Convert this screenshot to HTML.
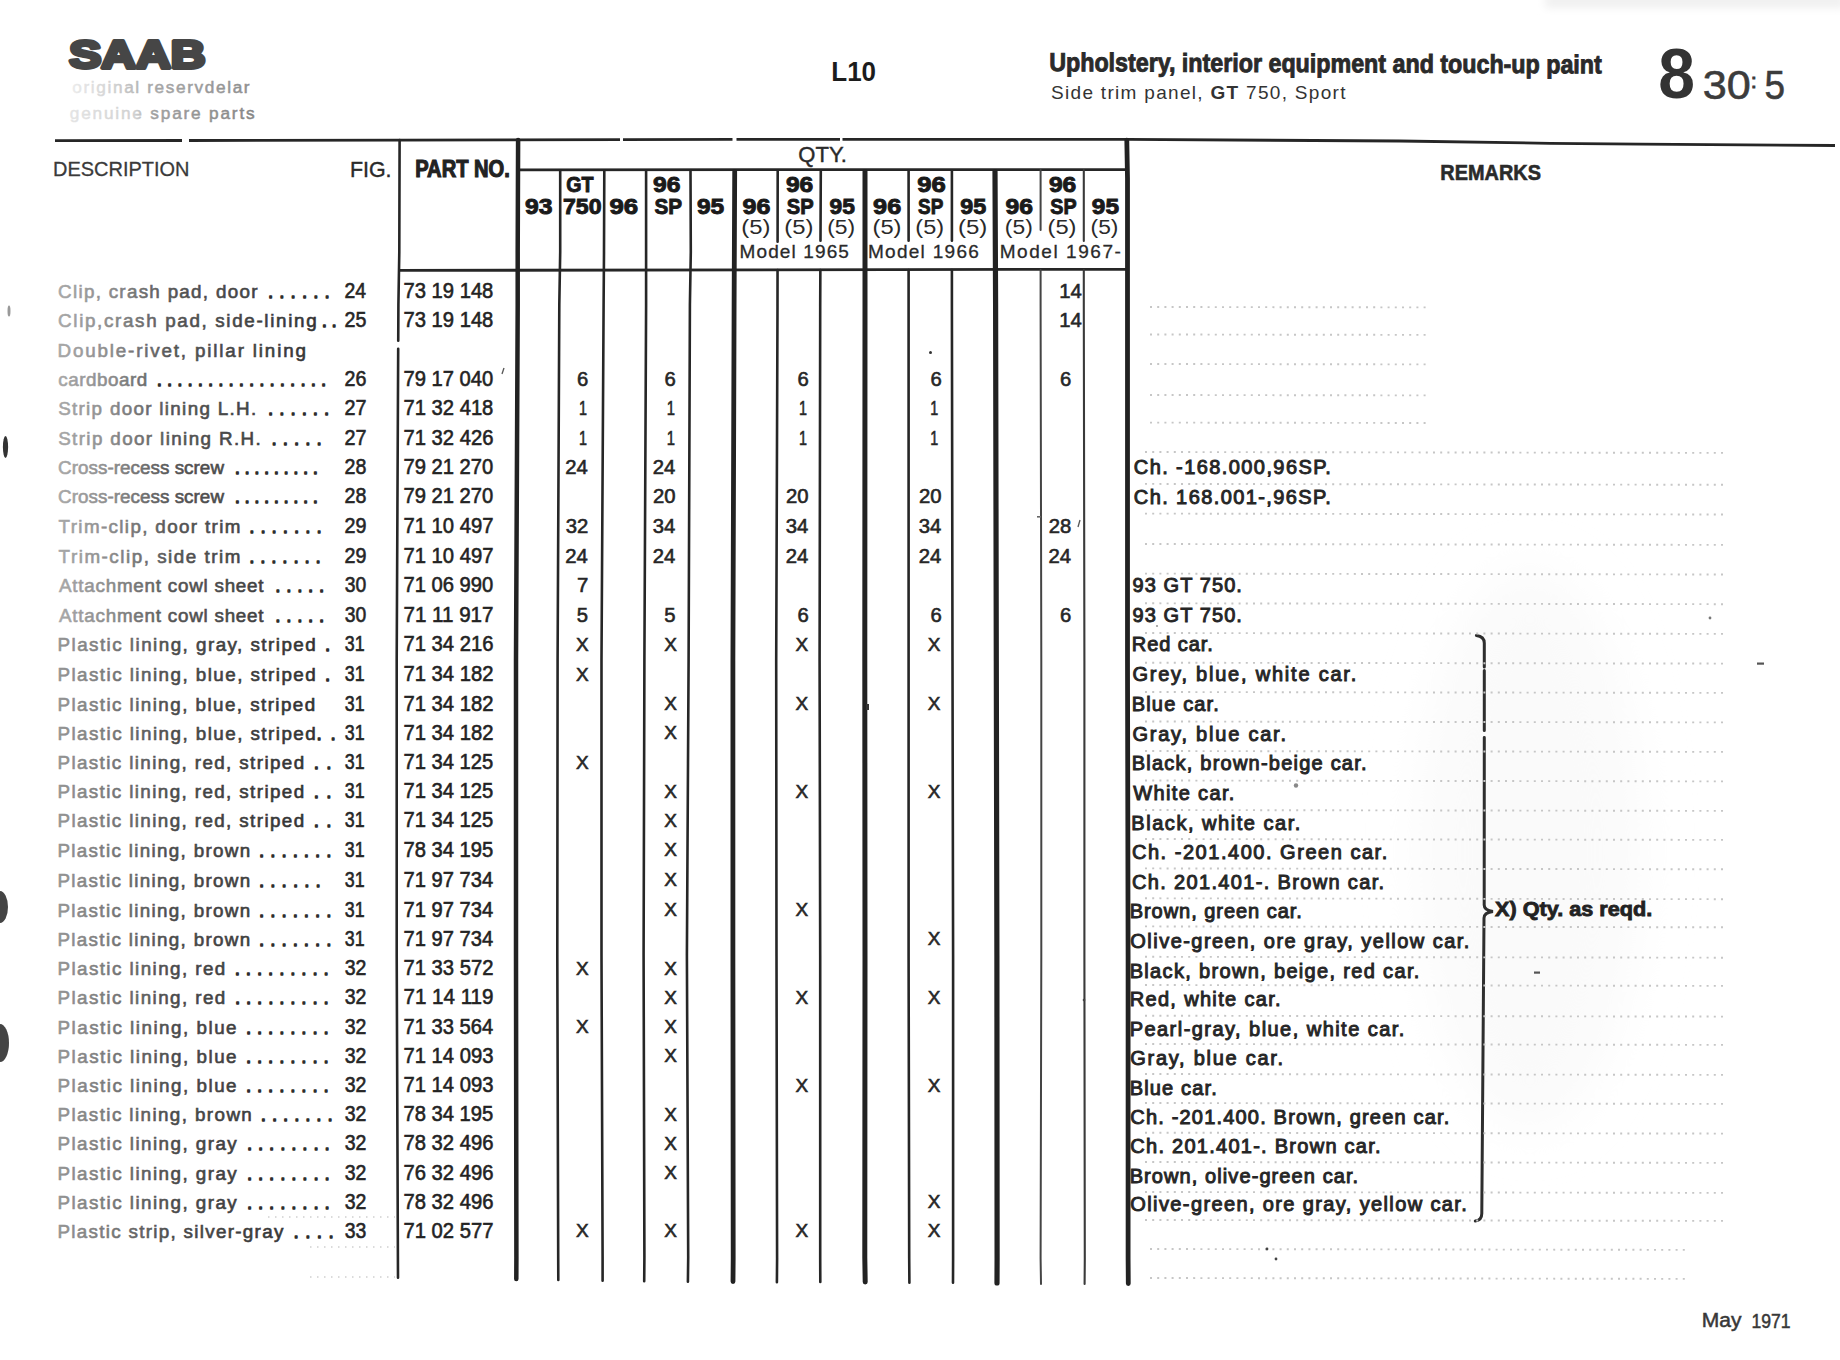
<!DOCTYPE html>
<html><head><meta charset="utf-8"><title>SAAB 8 30:5 - Upholstery, interior equipment and touch-up paint</title>
<style>
html,body{margin:0;padding:0;background:#fff;}
body{width:1840px;height:1360px;overflow:hidden;}
svg{display:block;font-family:"Liberation Sans", Arial, sans-serif;}

text.n{stroke:#262626;stroke-width:0.6;}
text.r{stroke:#262626;stroke-width:0.95;}
</style></head><body>
<svg width="1840" height="1360" viewBox="0 0 1840 1360">
<defs>
<linearGradient id="fadeD" gradientUnits="userSpaceOnUse" x1="58" y1="0" x2="330" y2="0">
<stop offset="0" stop-color="#949494"/><stop offset="0.2" stop-color="#777"/><stop offset="0.42" stop-color="#4a4a4a"/><stop offset="1" stop-color="#2e2e2e"/>
</linearGradient>
<linearGradient id="fadeE" gradientUnits="userSpaceOnUse" x1="58" y1="0" x2="330" y2="0">
<stop offset="0" stop-color="#a8a8a8"/><stop offset="0.2" stop-color="#8a8a8a"/><stop offset="0.42" stop-color="#555"/><stop offset="1" stop-color="#303030"/>
</linearGradient>
<linearGradient id="fadeA" gradientUnits="userSpaceOnUse" x1="70" y1="0" x2="250" y2="0">
<stop offset="0" stop-color="#ececec"/><stop offset="0.25" stop-color="#d0d0d0"/><stop offset="0.45" stop-color="#a8a8a8"/><stop offset="1" stop-color="#8e8e8e"/>
</linearGradient>
<linearGradient id="fadeB" gradientUnits="userSpaceOnUse" x1="70" y1="0" x2="255" y2="0">
<stop offset="0" stop-color="#e4e4e4"/><stop offset="0.35" stop-color="#d0d0d0"/><stop offset="0.45" stop-color="#a0a0a0"/><stop offset="1" stop-color="#858585"/>
</linearGradient>
<filter id="blur4" x="-10%" y="-50%" width="120%" height="200%"><feGaussianBlur stdDeviation="4"/></filter>
<filter id="blur20" x="-50%" y="-50%" width="200%" height="200%"><feGaussianBlur stdDeviation="25"/></filter>
</defs>
<rect width="1840" height="1360" fill="#ffffff"/>
<ellipse cx="1530" cy="850" rx="110" ry="280" fill="#fafafa" filter="url(#blur20)"/>
<text x="69.22" y="67.70" font-size="39.50" font-weight="bold" fill="#464646" textLength="136.17" lengthAdjust="spacingAndGlyphs" stroke="#464646" stroke-width="3.8" stroke-linejoin="round">SAAB</text>
<text x="72.28" y="93.30" font-size="17.20" fill="url(#fadeA)" textLength="177.31" lengthAdjust="spacing" stroke="url(#fadeA)" stroke-width="0.5">original reservdelar</text>
<text x="69.78" y="118.90" font-size="17.20" fill="url(#fadeB)" textLength="184.84" lengthAdjust="spacing" stroke="url(#fadeB)" stroke-width="0.5">genuine spare parts</text>
<text x="831.26" y="81.30" font-size="27.00" font-weight="bold" fill="#1c1c1c" textLength="44.81" lengthAdjust="spacingAndGlyphs">L10</text>
<text x="1049.21" y="71.10" font-size="26.00" font-weight="bold" fill="#2a2a2a" textLength="552.58" lengthAdjust="spacingAndGlyphs" stroke="#2a2a2a" stroke-width="0.9" transform="rotate(0.24 1050 71)">Upholstery, interior equipment and touch-up paint</text>
<text x="1051.00" y="98.7" font-size="19" fill="#333" textLength="294.50" lengthAdjust="spacing">Side trim panel, <tspan font-weight="bold">GT</tspan> 750, Sport</text>
<text x="1658.30" y="97.60" font-size="71.00" font-weight="bold" fill="#333" textLength="36.73" lengthAdjust="spacingAndGlyphs">8</text>
<text x="1702.66" y="98.50" font-size="41.00" fill="#3c3c3c" textLength="48.03" lengthAdjust="spacingAndGlyphs" stroke="#3c3c3c" stroke-width="0.6">30</text>
<text x="1750.97" y="88.40" font-size="20.00" fill="#3c3c3c" stroke="#3c3c3c" stroke-width="1.1">:</text>
<text x="1764.52" y="98.50" font-size="41.00" fill="#3c3c3c" textLength="20.53" lengthAdjust="spacingAndGlyphs" stroke="#3c3c3c" stroke-width="0.6">5</text>
<path d="M55.00,140.60 L182.00,140.50" stroke="#262626" stroke-width="2.80" fill="none"/>
<path d="M189.00,140.50 L400.00,140.20 L620.00,139.71" stroke="#262626" stroke-width="2.80" fill="none"/>
<path d="M623.00,139.70 L732.50,139.45" stroke="#262626" stroke-width="2.80" fill="none"/>
<path d="M736.50,139.44 L800.00,139.30 L840.00,139.31" stroke="#262626" stroke-width="2.80" fill="none"/>
<path d="M842.50,139.31 L1127.00,139.40 L1400.00,141.00 L1550.00,143.30 L1640.00,144.10 L1835.00,145.50" stroke="#262626" stroke-width="2.80" fill="none"/>
<text x="53.06" y="176.00" font-size="21.00" fill="#3a3a3a" textLength="136.36" lengthAdjust="spacingAndGlyphs" stroke="#3a3a3a" stroke-width="0.3">DESCRIPTION</text>
<text x="349.94" y="176.70" font-size="22.00" fill="#2a2a2a" textLength="41.61" lengthAdjust="spacingAndGlyphs" stroke="#2a2a2a" stroke-width="0.4">FIG.</text>
<text x="415.17" y="176.60" font-size="23.00" font-weight="bold" fill="#222" textLength="94.69" lengthAdjust="spacingAndGlyphs" stroke="#222" stroke-width="1.1">PART NO.</text>
<text x="798.31" y="161.90" font-size="22.00" fill="#2a2a2a" textLength="48.59" lengthAdjust="spacingAndGlyphs" stroke="#2a2a2a" stroke-width="0.4">QTY.</text>
<text x="1440.37" y="180.40" font-size="22.00" font-weight="bold" fill="#2a2a2a" textLength="100.61" lengthAdjust="spacingAndGlyphs" stroke="#2a2a2a" stroke-width="0.6">REMARKS</text>
<text x="566.19" y="192.10" font-size="21.50" font-weight="bold" fill="#1a1a1a" textLength="27.32" lengthAdjust="spacingAndGlyphs" stroke="#1a1a1a" stroke-width="0.9">GT</text>
<text x="652.94" y="192.10" font-size="21.50" font-weight="bold" fill="#1a1a1a" textLength="27.45" lengthAdjust="spacingAndGlyphs" stroke="#1a1a1a" stroke-width="0.9">96</text>
<text x="785.95" y="192.10" font-size="21.50" font-weight="bold" fill="#1a1a1a" textLength="27.34" lengthAdjust="spacingAndGlyphs" stroke="#1a1a1a" stroke-width="0.9">96</text>
<text x="917.21" y="192.10" font-size="21.50" font-weight="bold" fill="#1a1a1a" textLength="28.52" lengthAdjust="spacingAndGlyphs" stroke="#1a1a1a" stroke-width="0.9">96</text>
<text x="1048.95" y="192.10" font-size="21.50" font-weight="bold" fill="#1a1a1a" textLength="27.34" lengthAdjust="spacingAndGlyphs" stroke="#1a1a1a" stroke-width="0.9">96</text>
<text x="525.14" y="214.30" font-size="21.50" font-weight="bold" fill="#1a1a1a" textLength="27.45" lengthAdjust="spacingAndGlyphs" stroke="#1a1a1a" stroke-width="0.9">93</text>
<text x="563.01" y="214.30" font-size="21.50" font-weight="bold" fill="#1a1a1a" textLength="38.54" lengthAdjust="spacingAndGlyphs" stroke="#1a1a1a" stroke-width="0.9">750</text>
<text x="609.50" y="214.30" font-size="21.50" font-weight="bold" fill="#1a1a1a" textLength="28.73" lengthAdjust="spacingAndGlyphs" stroke="#1a1a1a" stroke-width="0.9">96</text>
<text x="654.40" y="214.30" font-size="21.50" font-weight="bold" fill="#1a1a1a" textLength="27.60" lengthAdjust="spacingAndGlyphs" stroke="#1a1a1a" stroke-width="0.9">SP</text>
<text x="696.95" y="214.30" font-size="21.50" font-weight="bold" fill="#1a1a1a" textLength="27.23" lengthAdjust="spacingAndGlyphs" stroke="#1a1a1a" stroke-width="0.9">95</text>
<text x="742.53" y="214.30" font-size="21.50" font-weight="bold" fill="#1a1a1a" textLength="27.87" lengthAdjust="spacingAndGlyphs" stroke="#1a1a1a" stroke-width="0.9">96</text>
<text x="786.82" y="214.30" font-size="21.50" font-weight="bold" fill="#1a1a1a" textLength="26.87" lengthAdjust="spacingAndGlyphs" stroke="#1a1a1a" stroke-width="0.9">SP</text>
<text x="829.51" y="214.30" font-size="21.50" font-weight="bold" fill="#1a1a1a" textLength="25.32" lengthAdjust="spacingAndGlyphs" stroke="#1a1a1a" stroke-width="0.9">95</text>
<text x="873.12" y="214.30" font-size="21.50" font-weight="bold" fill="#1a1a1a" textLength="28.09" lengthAdjust="spacingAndGlyphs" stroke="#1a1a1a" stroke-width="0.9">96</text>
<text x="918.06" y="214.30" font-size="21.50" font-weight="bold" fill="#1a1a1a" textLength="25.19" lengthAdjust="spacingAndGlyphs" stroke="#1a1a1a" stroke-width="0.9">SP</text>
<text x="960.39" y="214.30" font-size="21.50" font-weight="bold" fill="#1a1a1a" textLength="25.96" lengthAdjust="spacingAndGlyphs" stroke="#1a1a1a" stroke-width="0.9">95</text>
<text x="1005.44" y="214.30" font-size="21.50" font-weight="bold" fill="#1a1a1a" textLength="27.45" lengthAdjust="spacingAndGlyphs" stroke="#1a1a1a" stroke-width="0.9">96</text>
<text x="1050.33" y="214.30" font-size="21.50" font-weight="bold" fill="#1a1a1a" textLength="26.34" lengthAdjust="spacingAndGlyphs" stroke="#1a1a1a" stroke-width="0.9">SP</text>
<text x="1091.85" y="214.30" font-size="21.50" font-weight="bold" fill="#1a1a1a" textLength="27.12" lengthAdjust="spacingAndGlyphs" stroke="#1a1a1a" stroke-width="0.9">95</text>
<text x="741.32" y="234.40" font-size="20.00" fill="#2a2a2a" textLength="29.16" lengthAdjust="spacingAndGlyphs">(5)</text>
<text x="784.22" y="234.40" font-size="20.00" fill="#2a2a2a" textLength="29.16" lengthAdjust="spacingAndGlyphs">(5)</text>
<text x="827.18" y="234.40" font-size="20.00" fill="#2a2a2a" textLength="27.93" lengthAdjust="spacingAndGlyphs">(5)</text>
<text x="872.53" y="234.40" font-size="20.00" fill="#2a2a2a" textLength="28.94" lengthAdjust="spacingAndGlyphs">(5)</text>
<text x="915.34" y="234.40" font-size="20.00" fill="#2a2a2a" textLength="28.71" lengthAdjust="spacingAndGlyphs">(5)</text>
<text x="958.01" y="234.40" font-size="20.00" fill="#2a2a2a" textLength="29.38" lengthAdjust="spacingAndGlyphs">(5)</text>
<text x="1004.88" y="234.40" font-size="20.00" fill="#2a2a2a" textLength="27.93" lengthAdjust="spacingAndGlyphs">(5)</text>
<text x="1047.53" y="234.40" font-size="20.00" fill="#2a2a2a" textLength="28.94" lengthAdjust="spacingAndGlyphs">(5)</text>
<text x="1090.59" y="234.40" font-size="20.00" fill="#2a2a2a" textLength="27.82" lengthAdjust="spacingAndGlyphs">(5)</text>
<text x="739.54" y="257.50" font-size="19.00" fill="#2a2a2a" textLength="109.36" lengthAdjust="spacing" stroke="#2a2a2a" stroke-width="0.3">Model 1965</text>
<text x="867.94" y="257.50" font-size="19.00" fill="#2a2a2a" textLength="110.89" lengthAdjust="spacing" stroke="#2a2a2a" stroke-width="0.3">Model 1966</text>
<text x="999.74" y="257.50" font-size="19.00" fill="#2a2a2a" textLength="121.10" lengthAdjust="spacing" stroke="#2a2a2a" stroke-width="0.3">Model 1967-</text>
<path d="M518.00,169.80 L1127.00,169.60" stroke="#262626" stroke-width="2.80" fill="none"/>
<path d="M398.50,270.40 L1127.00,269.30" stroke="#262626" stroke-width="2.80" fill="none"/>
<path d="M399.60,140.10 L399.30,252.00 L398.40,305.00 L398.23,340.70" stroke="#262626" stroke-width="2.60" fill="none" stroke-linejoin="round" stroke-linecap="round"/>
<path d="M398.19,348.80 L396.70,660.00 L396.70,955.00 L397.90,1257.00 L398.00,1277.70" stroke="#262626" stroke-width="2.60" fill="none" stroke-linejoin="round" stroke-linecap="round"/>
<path d="M518.10,140.05 L517.70,252.00 L517.70,305.00 L516.00,660.00 L516.00,955.00 L516.40,1257.00 L516.30,1279.05" stroke="#222" stroke-width="4.50" fill="none" stroke-linejoin="round" stroke-linecap="round"/>
<path d="M560.20,170.30 L560.20,252.00 L559.30,305.00 L557.60,660.00 L557.30,955.00 L558.20,1257.00 L558.30,1280.00" stroke="#262626" stroke-width="2.60" fill="none" stroke-linejoin="round" stroke-linecap="round"/>
<path d="M604.30,170.30 L604.00,252.00 L603.60,305.00 L601.50,660.00 L601.50,955.00 L602.60,1257.00 L602.60,1280.70" stroke="#262626" stroke-width="2.60" fill="none" stroke-linejoin="round" stroke-linecap="round"/>
<path d="M646.10,170.30 L646.10,252.00 L646.10,305.00 L644.40,660.00 L643.60,955.00 L644.40,1257.00 L644.20,1281.30" stroke="#262626" stroke-width="2.60" fill="none" stroke-linejoin="round" stroke-linecap="round"/>
<path d="M690.50,170.30 L690.80,252.00 L689.90,305.00 L688.60,660.00 L686.90,955.00 L688.20,1257.00 L687.90,1281.70" stroke="#262626" stroke-width="2.60" fill="none" stroke-linejoin="round" stroke-linecap="round"/>
<path d="M734.70,171.40 L734.10,306.00 L732.90,661.00 L732.90,956.00 L733.20,1258.00 L733.00,1281.60" stroke="#222" stroke-width="4.80" fill="none" stroke-linejoin="round" stroke-linecap="round"/>
<path d="M777.70,170.30 L777.59,241.70" stroke="#262626" stroke-width="2.60" fill="none" stroke-linejoin="round" stroke-linecap="round"/>
<path d="M777.55,270.00 L777.50,306.00 L776.20,661.00 L776.50,956.00 L777.10,1258.00 L776.90,1282.20" stroke="#262626" stroke-width="2.60" fill="none" stroke-linejoin="round" stroke-linecap="round"/>
<path d="M820.80,170.30 L820.49,240.70" stroke="#262626" stroke-width="2.60" fill="none" stroke-linejoin="round" stroke-linecap="round"/>
<path d="M820.36,270.00 L820.20,306.00 L819.60,661.00 L820.20,956.00 L820.20,1258.00 L820.30,1281.90" stroke="#262626" stroke-width="2.60" fill="none" stroke-linejoin="round" stroke-linecap="round"/>
<path d="M865.00,171.50 L865.00,306.00 L864.80,661.00 L865.00,956.00 L864.80,1258.00 L865.20,1282.00" stroke="#222" stroke-width="5.00" fill="none" stroke-linejoin="round" stroke-linecap="round"/>
<path d="M908.60,170.30 L908.60,240.70" stroke="#262626" stroke-width="2.60" fill="none" stroke-linejoin="round" stroke-linecap="round"/>
<path d="M908.60,270.00 L908.60,306.00 L908.60,661.00 L908.60,956.00 L909.20,1258.00 L909.40,1282.70" stroke="#262626" stroke-width="2.60" fill="none" stroke-linejoin="round" stroke-linecap="round"/>
<path d="M951.90,170.30 L951.90,240.70" stroke="#262626" stroke-width="2.60" fill="none" stroke-linejoin="round" stroke-linecap="round"/>
<path d="M951.90,270.00 L951.90,306.00 L952.50,661.00 L953.10,956.00 L953.10,1258.00 L953.00,1282.70" stroke="#262626" stroke-width="2.60" fill="none" stroke-linejoin="round" stroke-linecap="round"/>
<path d="M995.00,171.60 L995.60,306.00 L996.30,661.00 L996.90,956.00 L997.10,1258.00 L997.00,1282.90" stroke="#222" stroke-width="5.20" fill="none" stroke-linejoin="round" stroke-linecap="round"/>
<path d="M1040.60,170.00 L1040.60,230.00" stroke="#444" stroke-width="2.00" fill="none" stroke-linejoin="round" stroke-linecap="round"/>
<path d="M1040.60,270.00 L1040.60,306.00 L1041.30,661.00 L1041.30,956.00 L1040.60,1258.00 L1041.00,1284.00" stroke="#444" stroke-width="2.00" fill="none" stroke-linejoin="round" stroke-linecap="round"/>
<path d="M1083.80,170.05 L1083.80,240.95" stroke="#3a3a3a" stroke-width="2.10" fill="none" stroke-linejoin="round" stroke-linecap="round"/>
<path d="M1083.80,270.00 L1083.80,306.00 L1084.40,661.00 L1084.40,956.00 L1084.80,1258.00 L1084.60,1283.95" stroke="#3a3a3a" stroke-width="2.10" fill="none" stroke-linejoin="round" stroke-linecap="round"/>
<path d="M1126.80,140.20 L1127.50,178.00 L1127.50,306.00 L1127.50,661.00 L1128.10,956.00 L1128.10,1258.00 L1128.30,1283.60" stroke="#222" stroke-width="4.80" fill="none" stroke-linejoin="round" stroke-linecap="round"/>
<text x="58.05" y="297.70" font-size="18.80" fill="url(#fadeE)" textLength="199.37" lengthAdjust="spacing" class="d" stroke="url(#fadeE)" stroke-width="0.6">Clip, crash pad, door</text>
<text x="267.98" y="297.70" font-size="18.80" fill="#2e2e2e" textLength="61.73" lengthAdjust="spacing" stroke="#2e2e2e" stroke-width="1.3" stroke-linejoin="round">......</text>
<text x="344.53" y="297.70" font-size="21.50" fill="#262626" textLength="21.54" lengthAdjust="spacingAndGlyphs" class="n">24</text>
<text x="403.46" y="297.70" font-size="22.00" fill="#222" textLength="89.91" lengthAdjust="spacingAndGlyphs" class="n">73 19 148</text>
<text x="58.05" y="327.40" font-size="18.80" fill="url(#fadeE)" textLength="258.57" lengthAdjust="spacing" class="d" stroke="url(#fadeE)" stroke-width="0.6">Clip,crash pad, side-lining</text>
<text x="321.78" y="327.40" font-size="18.80" fill="#2e2e2e" textLength="14.93" lengthAdjust="spacing" stroke="#2e2e2e" stroke-width="1.3" stroke-linejoin="round">..</text>
<text x="344.51" y="327.40" font-size="21.50" fill="#262626" textLength="21.81" lengthAdjust="spacingAndGlyphs" class="n">25</text>
<text x="403.46" y="327.40" font-size="22.00" fill="#222" textLength="89.91" lengthAdjust="spacingAndGlyphs" class="n">73 19 148</text>
<text x="57.46" y="356.80" font-size="18.80" fill="url(#fadeE)" textLength="248.45" lengthAdjust="spacing" class="d" stroke="url(#fadeE)" stroke-width="0.6">Double-rivet, pillar lining</text>
<text x="58.20" y="386.20" font-size="18.80" fill="url(#fadeE)" textLength="89.01" lengthAdjust="spacing" class="d" stroke="url(#fadeE)" stroke-width="0.6">cardboard</text>
<text x="156.78" y="386.20" font-size="18.80" fill="#2e2e2e" textLength="169.33" lengthAdjust="spacing" stroke="#2e2e2e" stroke-width="1.3" stroke-linejoin="round">.................</text>
<text x="344.51" y="386.20" font-size="21.50" fill="#262626" textLength="21.85" lengthAdjust="spacingAndGlyphs" class="n">26</text>
<text x="403.46" y="386.20" font-size="22.00" fill="#222" textLength="89.82" lengthAdjust="spacingAndGlyphs" class="n">79 17 040</text>
<text x="58.15" y="415.30" font-size="18.80" fill="url(#fadeE)" textLength="197.97" lengthAdjust="spacing" class="d" stroke="url(#fadeE)" stroke-width="0.6">Strip door lining L.H.</text>
<text x="267.98" y="415.30" font-size="18.80" fill="#2e2e2e" textLength="61.33" lengthAdjust="spacing" stroke="#2e2e2e" stroke-width="1.3" stroke-linejoin="round">......</text>
<text x="344.51" y="415.30" font-size="21.50" fill="#262626" textLength="21.99" lengthAdjust="spacingAndGlyphs" class="n">27</text>
<text x="403.46" y="415.30" font-size="22.00" fill="#222" textLength="89.91" lengthAdjust="spacingAndGlyphs" class="n">71 32 418</text>
<text x="58.15" y="445.00" font-size="18.80" fill="url(#fadeE)" textLength="202.57" lengthAdjust="spacing" class="d" stroke="url(#fadeE)" stroke-width="0.6">Strip door lining R.H.</text>
<text x="271.58" y="445.00" font-size="18.80" fill="#2e2e2e" textLength="50.13" lengthAdjust="spacing" stroke="#2e2e2e" stroke-width="1.3" stroke-linejoin="round">.....</text>
<text x="344.51" y="445.00" font-size="21.50" fill="#262626" textLength="21.99" lengthAdjust="spacingAndGlyphs" class="n">27</text>
<text x="403.46" y="445.00" font-size="22.00" fill="#222" textLength="89.92" lengthAdjust="spacingAndGlyphs" class="n">71 32 426</text>
<text x="58.05" y="473.60" font-size="18.80" fill="url(#fadeE)" textLength="165.91" lengthAdjust="spacing" class="d" stroke="url(#fadeE)" stroke-width="0.6">Cross-recess screw</text>
<text x="234.78" y="473.60" font-size="18.80" fill="#2e2e2e" textLength="83.23" lengthAdjust="spacing" stroke="#2e2e2e" stroke-width="1.3" stroke-linejoin="round">.........</text>
<text x="344.51" y="473.60" font-size="21.50" fill="#262626" textLength="21.84" lengthAdjust="spacingAndGlyphs" class="n">28</text>
<text x="403.46" y="473.60" font-size="22.00" fill="#222" textLength="89.82" lengthAdjust="spacingAndGlyphs" class="n">79 21 270</text>
<text x="58.05" y="503.00" font-size="18.80" fill="url(#fadeE)" textLength="165.91" lengthAdjust="spacing" class="d" stroke="url(#fadeE)" stroke-width="0.6">Cross-recess screw</text>
<text x="234.78" y="503.00" font-size="18.80" fill="#2e2e2e" textLength="83.23" lengthAdjust="spacing" stroke="#2e2e2e" stroke-width="1.3" stroke-linejoin="round">.........</text>
<text x="344.51" y="503.00" font-size="21.50" fill="#262626" textLength="21.84" lengthAdjust="spacingAndGlyphs" class="n">28</text>
<text x="403.46" y="503.00" font-size="22.00" fill="#222" textLength="89.82" lengthAdjust="spacingAndGlyphs" class="n">79 21 270</text>
<text x="58.58" y="532.70" font-size="18.80" fill="url(#fadeE)" textLength="181.86" lengthAdjust="spacing" class="d" stroke="url(#fadeE)" stroke-width="0.6">Trim-clip, door trim</text>
<text x="249.18" y="532.70" font-size="18.80" fill="#2e2e2e" textLength="72.53" lengthAdjust="spacing" stroke="#2e2e2e" stroke-width="1.3" stroke-linejoin="round">.......</text>
<text x="344.51" y="532.70" font-size="21.50" fill="#262626" textLength="21.92" lengthAdjust="spacingAndGlyphs" class="n">29</text>
<text x="403.46" y="532.70" font-size="22.00" fill="#222" textLength="90.06" lengthAdjust="spacingAndGlyphs" class="n">71 10 497</text>
<text x="58.58" y="562.70" font-size="18.80" fill="url(#fadeE)" textLength="181.86" lengthAdjust="spacing" class="d" stroke="url(#fadeE)" stroke-width="0.6">Trim-clip, side trim</text>
<text x="249.18" y="562.70" font-size="18.80" fill="#2e2e2e" textLength="71.53" lengthAdjust="spacing" stroke="#2e2e2e" stroke-width="1.3" stroke-linejoin="round">.......</text>
<text x="344.51" y="562.70" font-size="21.50" fill="#262626" textLength="21.92" lengthAdjust="spacingAndGlyphs" class="n">29</text>
<text x="403.46" y="562.70" font-size="22.00" fill="#222" textLength="90.06" lengthAdjust="spacingAndGlyphs" class="n">71 10 497</text>
<text x="58.96" y="591.80" font-size="18.80" fill="url(#fadeE)" textLength="204.57" lengthAdjust="spacing" class="d" stroke="url(#fadeE)" stroke-width="0.6">Attachment cowl sheet</text>
<text x="275.18" y="591.80" font-size="18.80" fill="#2e2e2e" textLength="49.13" lengthAdjust="spacing" stroke="#2e2e2e" stroke-width="1.3" stroke-linejoin="round">.....</text>
<text x="344.76" y="591.80" font-size="21.50" fill="#262626" textLength="21.49" lengthAdjust="spacingAndGlyphs" class="n">30</text>
<text x="403.46" y="591.80" font-size="22.00" fill="#222" textLength="89.82" lengthAdjust="spacingAndGlyphs" class="n">71 06 990</text>
<text x="58.96" y="621.50" font-size="18.80" fill="url(#fadeE)" textLength="204.57" lengthAdjust="spacing" class="d" stroke="url(#fadeE)" stroke-width="0.6">Attachment cowl sheet</text>
<text x="275.18" y="621.50" font-size="18.80" fill="#2e2e2e" textLength="49.13" lengthAdjust="spacing" stroke="#2e2e2e" stroke-width="1.3" stroke-linejoin="round">.....</text>
<text x="344.76" y="621.50" font-size="21.50" fill="#262626" textLength="21.49" lengthAdjust="spacingAndGlyphs" class="n">30</text>
<text x="403.46" y="621.50" font-size="22.00" fill="#222" textLength="90.06" lengthAdjust="spacingAndGlyphs" class="n">71 11 917</text>
<text x="57.46" y="651.30" font-size="18.80" fill="url(#fadeD)" textLength="258.25" lengthAdjust="spacing" class="d" stroke="url(#fadeD)" stroke-width="0.6">Plastic lining, gray, striped</text>
<text x="325.08" y="651.30" font-size="18.80" fill="#2e2e2e" textLength="6.43" lengthAdjust="spacing" stroke="#2e2e2e" stroke-width="1.3" stroke-linejoin="round">.</text>
<text x="344.82" y="651.30" font-size="21.50" fill="#262626" textLength="19.85" lengthAdjust="spacingAndGlyphs" class="n">31</text>
<text x="403.46" y="651.30" font-size="22.00" fill="#222" textLength="89.92" lengthAdjust="spacingAndGlyphs" class="n">71 34 216</text>
<text x="57.46" y="681.10" font-size="18.80" fill="url(#fadeD)" textLength="258.25" lengthAdjust="spacing" class="d" stroke="url(#fadeD)" stroke-width="0.6">Plastic lining, blue, striped</text>
<text x="325.08" y="681.10" font-size="18.80" fill="#2e2e2e" textLength="6.43" lengthAdjust="spacing" stroke="#2e2e2e" stroke-width="1.3" stroke-linejoin="round">.</text>
<text x="344.82" y="681.10" font-size="21.50" fill="#262626" textLength="19.85" lengthAdjust="spacingAndGlyphs" class="n">31</text>
<text x="403.46" y="681.10" font-size="22.00" fill="#222" textLength="90.06" lengthAdjust="spacingAndGlyphs" class="n">71 34 182</text>
<text x="57.46" y="710.60" font-size="18.80" fill="url(#fadeD)" textLength="257.75" lengthAdjust="spacing" class="d" stroke="url(#fadeD)" stroke-width="0.6">Plastic lining, blue, striped</text>
<text x="344.82" y="710.60" font-size="21.50" fill="#262626" textLength="19.85" lengthAdjust="spacingAndGlyphs" class="n">31</text>
<text x="403.46" y="710.60" font-size="22.00" fill="#222" textLength="90.06" lengthAdjust="spacingAndGlyphs" class="n">71 34 182</text>
<text x="57.46" y="739.80" font-size="18.80" fill="url(#fadeD)" textLength="258.25" lengthAdjust="spacing" class="d" stroke="url(#fadeD)" stroke-width="0.6">Plastic lining, blue, striped</text>
<text x="316.48" y="739.80" font-size="18.80" fill="#2e2e2e" textLength="19.23" lengthAdjust="spacing" stroke="#2e2e2e" stroke-width="1.3" stroke-linejoin="round">..</text>
<text x="344.82" y="739.80" font-size="21.50" fill="#262626" textLength="19.85" lengthAdjust="spacingAndGlyphs" class="n">31</text>
<text x="403.46" y="739.80" font-size="22.00" fill="#222" textLength="90.06" lengthAdjust="spacingAndGlyphs" class="n">71 34 182</text>
<text x="57.46" y="769.20" font-size="18.80" fill="url(#fadeD)" textLength="246.65" lengthAdjust="spacing" class="d" stroke="url(#fadeD)" stroke-width="0.6">Plastic lining, red, striped</text>
<text x="313.68" y="769.20" font-size="18.80" fill="#2e2e2e" textLength="17.83" lengthAdjust="spacing" stroke="#2e2e2e" stroke-width="1.3" stroke-linejoin="round">..</text>
<text x="344.82" y="769.20" font-size="21.50" fill="#262626" textLength="19.85" lengthAdjust="spacingAndGlyphs" class="n">31</text>
<text x="403.46" y="769.20" font-size="22.00" fill="#222" textLength="89.88" lengthAdjust="spacingAndGlyphs" class="n">71 34 125</text>
<text x="57.46" y="798.40" font-size="18.80" fill="url(#fadeD)" textLength="246.65" lengthAdjust="spacing" class="d" stroke="url(#fadeD)" stroke-width="0.6">Plastic lining, red, striped</text>
<text x="313.68" y="798.40" font-size="18.80" fill="#2e2e2e" textLength="17.83" lengthAdjust="spacing" stroke="#2e2e2e" stroke-width="1.3" stroke-linejoin="round">..</text>
<text x="344.82" y="798.40" font-size="21.50" fill="#262626" textLength="19.85" lengthAdjust="spacingAndGlyphs" class="n">31</text>
<text x="403.46" y="798.40" font-size="22.00" fill="#222" textLength="89.88" lengthAdjust="spacingAndGlyphs" class="n">71 34 125</text>
<text x="57.46" y="827.20" font-size="18.80" fill="url(#fadeD)" textLength="246.65" lengthAdjust="spacing" class="d" stroke="url(#fadeD)" stroke-width="0.6">Plastic lining, red, striped</text>
<text x="313.68" y="827.20" font-size="18.80" fill="#2e2e2e" textLength="17.83" lengthAdjust="spacing" stroke="#2e2e2e" stroke-width="1.3" stroke-linejoin="round">..</text>
<text x="344.82" y="827.20" font-size="21.50" fill="#262626" textLength="19.85" lengthAdjust="spacingAndGlyphs" class="n">31</text>
<text x="403.46" y="827.20" font-size="22.00" fill="#222" textLength="89.88" lengthAdjust="spacingAndGlyphs" class="n">71 34 125</text>
<text x="57.46" y="856.70" font-size="18.80" fill="url(#fadeD)" textLength="192.76" lengthAdjust="spacing" class="d" stroke="url(#fadeD)" stroke-width="0.6">Plastic lining, brown</text>
<text x="258.98" y="856.70" font-size="18.80" fill="#2e2e2e" textLength="72.53" lengthAdjust="spacing" stroke="#2e2e2e" stroke-width="1.3" stroke-linejoin="round">.......</text>
<text x="344.82" y="856.70" font-size="21.50" fill="#262626" textLength="19.85" lengthAdjust="spacingAndGlyphs" class="n">31</text>
<text x="403.46" y="856.70" font-size="22.00" fill="#222" textLength="89.88" lengthAdjust="spacingAndGlyphs" class="n">78 34 195</text>
<text x="57.46" y="886.50" font-size="18.80" fill="url(#fadeD)" textLength="192.76" lengthAdjust="spacing" class="d" stroke="url(#fadeD)" stroke-width="0.6">Plastic lining, brown</text>
<text x="258.98" y="886.50" font-size="18.80" fill="#2e2e2e" textLength="61.73" lengthAdjust="spacing" stroke="#2e2e2e" stroke-width="1.3" stroke-linejoin="round">......</text>
<text x="344.82" y="886.50" font-size="21.50" fill="#262626" textLength="19.85" lengthAdjust="spacingAndGlyphs" class="n">31</text>
<text x="403.47" y="886.50" font-size="22.00" fill="#222" textLength="89.62" lengthAdjust="spacingAndGlyphs" class="n">71 97 734</text>
<text x="57.46" y="916.50" font-size="18.80" fill="url(#fadeD)" textLength="192.76" lengthAdjust="spacing" class="d" stroke="url(#fadeD)" stroke-width="0.6">Plastic lining, brown</text>
<text x="258.98" y="916.50" font-size="18.80" fill="#2e2e2e" textLength="72.53" lengthAdjust="spacing" stroke="#2e2e2e" stroke-width="1.3" stroke-linejoin="round">.......</text>
<text x="344.82" y="916.50" font-size="21.50" fill="#262626" textLength="19.85" lengthAdjust="spacingAndGlyphs" class="n">31</text>
<text x="403.47" y="916.50" font-size="22.00" fill="#222" textLength="89.62" lengthAdjust="spacingAndGlyphs" class="n">71 97 734</text>
<text x="57.46" y="945.60" font-size="18.80" fill="url(#fadeD)" textLength="192.76" lengthAdjust="spacing" class="d" stroke="url(#fadeD)" stroke-width="0.6">Plastic lining, brown</text>
<text x="258.98" y="945.60" font-size="18.80" fill="#2e2e2e" textLength="72.53" lengthAdjust="spacing" stroke="#2e2e2e" stroke-width="1.3" stroke-linejoin="round">.......</text>
<text x="344.82" y="945.60" font-size="21.50" fill="#262626" textLength="19.85" lengthAdjust="spacingAndGlyphs" class="n">31</text>
<text x="403.47" y="945.60" font-size="22.00" fill="#222" textLength="89.62" lengthAdjust="spacingAndGlyphs" class="n">71 97 734</text>
<text x="57.46" y="975.30" font-size="18.80" fill="url(#fadeD)" textLength="167.75" lengthAdjust="spacing" class="d" stroke="url(#fadeD)" stroke-width="0.6">Plastic lining, red</text>
<text x="234.78" y="975.30" font-size="18.80" fill="#2e2e2e" textLength="93.93" lengthAdjust="spacing" stroke="#2e2e2e" stroke-width="1.3" stroke-linejoin="round">.........</text>
<text x="344.76" y="975.30" font-size="21.50" fill="#262626" textLength="21.73" lengthAdjust="spacingAndGlyphs" class="n">32</text>
<text x="403.46" y="975.30" font-size="22.00" fill="#222" textLength="90.06" lengthAdjust="spacingAndGlyphs" class="n">71 33 572</text>
<text x="57.46" y="1004.40" font-size="18.80" fill="url(#fadeD)" textLength="167.75" lengthAdjust="spacing" class="d" stroke="url(#fadeD)" stroke-width="0.6">Plastic lining, red</text>
<text x="234.98" y="1004.40" font-size="18.80" fill="#2e2e2e" textLength="93.73" lengthAdjust="spacing" stroke="#2e2e2e" stroke-width="1.3" stroke-linejoin="round">.........</text>
<text x="344.76" y="1004.40" font-size="21.50" fill="#262626" textLength="21.73" lengthAdjust="spacingAndGlyphs" class="n">32</text>
<text x="403.46" y="1004.40" font-size="22.00" fill="#222" textLength="90.00" lengthAdjust="spacingAndGlyphs" class="n">71 14 119</text>
<text x="57.46" y="1033.80" font-size="18.80" fill="url(#fadeD)" textLength="179.08" lengthAdjust="spacing" class="d" stroke="url(#fadeD)" stroke-width="0.6">Plastic lining, blue</text>
<text x="245.88" y="1033.80" font-size="18.80" fill="#2e2e2e" textLength="82.83" lengthAdjust="spacing" stroke="#2e2e2e" stroke-width="1.3" stroke-linejoin="round">........</text>
<text x="344.76" y="1033.80" font-size="21.50" fill="#262626" textLength="21.73" lengthAdjust="spacingAndGlyphs" class="n">32</text>
<text x="403.47" y="1033.80" font-size="22.00" fill="#222" textLength="89.62" lengthAdjust="spacingAndGlyphs" class="n">71 33 564</text>
<text x="57.46" y="1062.70" font-size="18.80" fill="url(#fadeD)" textLength="179.08" lengthAdjust="spacing" class="d" stroke="url(#fadeD)" stroke-width="0.6">Plastic lining, blue</text>
<text x="245.88" y="1062.70" font-size="18.80" fill="#2e2e2e" textLength="82.83" lengthAdjust="spacing" stroke="#2e2e2e" stroke-width="1.3" stroke-linejoin="round">........</text>
<text x="344.76" y="1062.70" font-size="21.50" fill="#262626" textLength="21.73" lengthAdjust="spacingAndGlyphs" class="n">32</text>
<text x="403.46" y="1062.70" font-size="22.00" fill="#222" textLength="89.92" lengthAdjust="spacingAndGlyphs" class="n">71 14 093</text>
<text x="57.46" y="1092.00" font-size="18.80" fill="url(#fadeD)" textLength="179.08" lengthAdjust="spacing" class="d" stroke="url(#fadeD)" stroke-width="0.6">Plastic lining, blue</text>
<text x="245.88" y="1092.00" font-size="18.80" fill="#2e2e2e" textLength="82.83" lengthAdjust="spacing" stroke="#2e2e2e" stroke-width="1.3" stroke-linejoin="round">........</text>
<text x="344.76" y="1092.00" font-size="21.50" fill="#262626" textLength="21.73" lengthAdjust="spacingAndGlyphs" class="n">32</text>
<text x="403.46" y="1092.00" font-size="22.00" fill="#222" textLength="89.92" lengthAdjust="spacingAndGlyphs" class="n">71 14 093</text>
<text x="57.46" y="1121.20" font-size="18.80" fill="url(#fadeD)" textLength="194.36" lengthAdjust="spacing" class="d" stroke="url(#fadeD)" stroke-width="0.6">Plastic lining, brown</text>
<text x="260.78" y="1121.20" font-size="18.80" fill="#2e2e2e" textLength="71.93" lengthAdjust="spacing" stroke="#2e2e2e" stroke-width="1.3" stroke-linejoin="round">.......</text>
<text x="344.76" y="1121.20" font-size="21.50" fill="#262626" textLength="21.73" lengthAdjust="spacingAndGlyphs" class="n">32</text>
<text x="403.46" y="1121.20" font-size="22.00" fill="#222" textLength="89.88" lengthAdjust="spacingAndGlyphs" class="n">78 34 195</text>
<text x="57.46" y="1150.30" font-size="18.80" fill="url(#fadeD)" textLength="179.28" lengthAdjust="spacing" class="d" stroke="url(#fadeD)" stroke-width="0.6">Plastic lining, gray</text>
<text x="246.88" y="1150.30" font-size="18.80" fill="#2e2e2e" textLength="82.83" lengthAdjust="spacing" stroke="#2e2e2e" stroke-width="1.3" stroke-linejoin="round">........</text>
<text x="344.76" y="1150.30" font-size="21.50" fill="#262626" textLength="21.73" lengthAdjust="spacingAndGlyphs" class="n">32</text>
<text x="403.46" y="1150.30" font-size="22.00" fill="#222" textLength="89.92" lengthAdjust="spacingAndGlyphs" class="n">78 32 496</text>
<text x="57.46" y="1179.50" font-size="18.80" fill="url(#fadeD)" textLength="179.28" lengthAdjust="spacing" class="d" stroke="url(#fadeD)" stroke-width="0.6">Plastic lining, gray</text>
<text x="246.88" y="1179.50" font-size="18.80" fill="#2e2e2e" textLength="82.83" lengthAdjust="spacing" stroke="#2e2e2e" stroke-width="1.3" stroke-linejoin="round">........</text>
<text x="344.76" y="1179.50" font-size="21.50" fill="#262626" textLength="21.73" lengthAdjust="spacingAndGlyphs" class="n">32</text>
<text x="403.46" y="1179.50" font-size="22.00" fill="#222" textLength="89.92" lengthAdjust="spacingAndGlyphs" class="n">76 32 496</text>
<text x="57.46" y="1208.60" font-size="18.80" fill="url(#fadeD)" textLength="179.28" lengthAdjust="spacing" class="d" stroke="url(#fadeD)" stroke-width="0.6">Plastic lining, gray</text>
<text x="246.88" y="1208.60" font-size="18.80" fill="#2e2e2e" textLength="82.83" lengthAdjust="spacing" stroke="#2e2e2e" stroke-width="1.3" stroke-linejoin="round">........</text>
<text x="344.76" y="1208.60" font-size="21.50" fill="#262626" textLength="21.73" lengthAdjust="spacingAndGlyphs" class="n">32</text>
<text x="403.46" y="1208.60" font-size="22.00" fill="#222" textLength="89.92" lengthAdjust="spacingAndGlyphs" class="n">78 32 496</text>
<text x="57.46" y="1237.70" font-size="18.80" fill="url(#fadeD)" textLength="225.88" lengthAdjust="spacing" class="d" stroke="url(#fadeD)" stroke-width="0.6">Plastic strip, silver-gray</text>
<text x="293.48" y="1237.70" font-size="18.80" fill="#2e2e2e" textLength="40.23" lengthAdjust="spacing" stroke="#2e2e2e" stroke-width="1.3" stroke-linejoin="round">....</text>
<text x="344.76" y="1237.70" font-size="21.50" fill="#262626" textLength="21.59" lengthAdjust="spacingAndGlyphs" class="n">33</text>
<text x="403.46" y="1237.70" font-size="22.00" fill="#222" textLength="90.06" lengthAdjust="spacingAndGlyphs" class="n">71 02 577</text>
<text x="1059.21" y="297.70" font-size="20.30" fill="#262626" class="n">14</text>
<text x="1059.21" y="327.40" font-size="20.30" fill="#262626" class="n">14</text>
<text x="576.90" y="386.20" font-size="20.30" fill="#262626" class="n">6</text>
<text x="664.40" y="386.20" font-size="20.30" fill="#262626" class="n">6</text>
<text x="797.40" y="386.20" font-size="20.30" fill="#262626" class="n">6</text>
<text x="930.40" y="386.20" font-size="20.30" fill="#262626" class="n">6</text>
<text x="1060.10" y="386.20" font-size="20.30" fill="#262626" class="n">6</text>
<text x="579.10" y="415.30" font-size="20.30" fill="#262626" textLength="8.00" lengthAdjust="spacingAndGlyphs" class="n">1</text>
<text x="666.67" y="415.30" font-size="20.30" fill="#262626" textLength="8.26" lengthAdjust="spacingAndGlyphs" class="n">1</text>
<text x="799.10" y="415.30" font-size="20.30" fill="#262626" textLength="8.00" lengthAdjust="spacingAndGlyphs" class="n">1</text>
<text x="930.30" y="415.30" font-size="20.30" fill="#262626" textLength="8.00" lengthAdjust="spacingAndGlyphs" class="n">1</text>
<text x="579.10" y="445.00" font-size="20.30" fill="#262626" textLength="8.00" lengthAdjust="spacingAndGlyphs" class="n">1</text>
<text x="666.67" y="445.00" font-size="20.30" fill="#262626" textLength="8.26" lengthAdjust="spacingAndGlyphs" class="n">1</text>
<text x="799.10" y="445.00" font-size="20.30" fill="#262626" textLength="8.00" lengthAdjust="spacingAndGlyphs" class="n">1</text>
<text x="930.30" y="445.00" font-size="20.30" fill="#262626" textLength="8.00" lengthAdjust="spacingAndGlyphs" class="n">1</text>
<text x="565.31" y="473.60" font-size="20.30" fill="#262626" class="n">24</text>
<text x="652.81" y="473.60" font-size="20.30" fill="#262626" class="n">24</text>
<text x="653.01" y="503.00" font-size="20.30" fill="#262626" class="n">20</text>
<text x="786.01" y="503.00" font-size="20.30" fill="#262626" class="n">20</text>
<text x="919.01" y="503.00" font-size="20.30" fill="#262626" class="n">20</text>
<text x="565.74" y="532.70" font-size="20.30" fill="#262626" class="n">32</text>
<text x="652.81" y="532.70" font-size="20.30" fill="#262626" class="n">34</text>
<text x="785.81" y="532.70" font-size="20.30" fill="#262626" class="n">34</text>
<text x="918.81" y="532.70" font-size="20.30" fill="#262626" class="n">34</text>
<text x="1048.80" y="532.70" font-size="20.30" fill="#262626" class="n">28</text>
<text x="565.31" y="562.70" font-size="20.30" fill="#262626" class="n">24</text>
<text x="652.81" y="562.70" font-size="20.30" fill="#262626" class="n">24</text>
<text x="785.81" y="562.70" font-size="20.30" fill="#262626" class="n">24</text>
<text x="918.81" y="562.70" font-size="20.30" fill="#262626" class="n">24</text>
<text x="1048.51" y="562.70" font-size="20.30" fill="#262626" class="n">24</text>
<text x="577.03" y="591.80" font-size="20.30" fill="#262626" class="n">7</text>
<text x="576.86" y="621.50" font-size="20.30" fill="#262626" class="n">5</text>
<text x="664.36" y="621.50" font-size="20.30" fill="#262626" class="n">5</text>
<text x="797.40" y="621.50" font-size="20.30" fill="#262626" class="n">6</text>
<text x="930.40" y="621.50" font-size="20.30" fill="#262626" class="n">6</text>
<text x="1060.10" y="621.50" font-size="20.30" fill="#262626" class="n">6</text>
<text x="576.05" y="650.80" font-size="19.00" fill="#2a2a2a" class="n">X</text>
<text x="664.25" y="650.80" font-size="19.00" fill="#2a2a2a" class="n">X</text>
<text x="795.55" y="650.80" font-size="19.00" fill="#2a2a2a" class="n">X</text>
<text x="927.65" y="650.80" font-size="19.00" fill="#2a2a2a" class="n">X</text>
<text x="576.05" y="680.60" font-size="19.00" fill="#2a2a2a" class="n">X</text>
<text x="664.25" y="710.10" font-size="19.00" fill="#2a2a2a" class="n">X</text>
<text x="795.55" y="710.10" font-size="19.00" fill="#2a2a2a" class="n">X</text>
<text x="927.65" y="710.10" font-size="19.00" fill="#2a2a2a" class="n">X</text>
<text x="664.25" y="739.30" font-size="19.00" fill="#2a2a2a" class="n">X</text>
<text x="576.05" y="768.70" font-size="19.00" fill="#2a2a2a" class="n">X</text>
<text x="664.25" y="797.90" font-size="19.00" fill="#2a2a2a" class="n">X</text>
<text x="795.55" y="797.90" font-size="19.00" fill="#2a2a2a" class="n">X</text>
<text x="927.65" y="797.90" font-size="19.00" fill="#2a2a2a" class="n">X</text>
<text x="664.25" y="826.70" font-size="19.00" fill="#2a2a2a" class="n">X</text>
<text x="664.25" y="856.20" font-size="19.00" fill="#2a2a2a" class="n">X</text>
<text x="664.25" y="886.00" font-size="19.00" fill="#2a2a2a" class="n">X</text>
<text x="664.25" y="916.00" font-size="19.00" fill="#2a2a2a" class="n">X</text>
<text x="795.55" y="916.00" font-size="19.00" fill="#2a2a2a" class="n">X</text>
<text x="927.65" y="945.10" font-size="19.00" fill="#2a2a2a" class="n">X</text>
<text x="576.05" y="974.80" font-size="19.00" fill="#2a2a2a" class="n">X</text>
<text x="664.25" y="974.80" font-size="19.00" fill="#2a2a2a" class="n">X</text>
<text x="664.25" y="1003.90" font-size="19.00" fill="#2a2a2a" class="n">X</text>
<text x="795.55" y="1003.90" font-size="19.00" fill="#2a2a2a" class="n">X</text>
<text x="927.65" y="1003.90" font-size="19.00" fill="#2a2a2a" class="n">X</text>
<text x="576.05" y="1033.30" font-size="19.00" fill="#2a2a2a" class="n">X</text>
<text x="664.25" y="1033.30" font-size="19.00" fill="#2a2a2a" class="n">X</text>
<text x="664.25" y="1062.20" font-size="19.00" fill="#2a2a2a" class="n">X</text>
<text x="795.55" y="1091.50" font-size="19.00" fill="#2a2a2a" class="n">X</text>
<text x="927.65" y="1091.50" font-size="19.00" fill="#2a2a2a" class="n">X</text>
<text x="664.25" y="1120.70" font-size="19.00" fill="#2a2a2a" class="n">X</text>
<text x="664.25" y="1149.80" font-size="19.00" fill="#2a2a2a" class="n">X</text>
<text x="664.25" y="1179.00" font-size="19.00" fill="#2a2a2a" class="n">X</text>
<text x="927.65" y="1208.10" font-size="19.00" fill="#2a2a2a" class="n">X</text>
<text x="576.05" y="1237.20" font-size="19.00" fill="#2a2a2a" class="n">X</text>
<text x="664.25" y="1237.20" font-size="19.00" fill="#2a2a2a" class="n">X</text>
<text x="795.55" y="1237.20" font-size="19.00" fill="#2a2a2a" class="n">X</text>
<text x="927.65" y="1237.20" font-size="19.00" fill="#2a2a2a" class="n">X</text>
<text x="1133.78" y="474.00" font-size="20.00" fill="#262626" textLength="197.14" lengthAdjust="spacing" class="r">Ch. -168.000,96SP.</text>
<text x="1133.78" y="503.70" font-size="20.00" fill="#262626" textLength="197.04" lengthAdjust="spacing" class="r">Ch. 168.001-,96SP.</text>
<text x="1132.46" y="592.00" font-size="20.00" fill="#262626" textLength="109.46" lengthAdjust="spacing" class="r">93 GT 750.</text>
<text x="1132.46" y="621.70" font-size="20.00" fill="#262626" textLength="109.46" lengthAdjust="spacing" class="r">93 GT 750.</text>
<text x="1131.76" y="651.40" font-size="20.00" fill="#262626" textLength="80.97" lengthAdjust="spacing" class="r">Red car.</text>
<text x="1132.39" y="681.20" font-size="20.00" fill="#262626" textLength="223.83" lengthAdjust="spacing" class="r">Grey, blue, white car.</text>
<text x="1131.76" y="710.70" font-size="20.00" fill="#262626" textLength="87.07" lengthAdjust="spacing" class="r">Blue car.</text>
<text x="1132.39" y="740.70" font-size="20.00" fill="#262626" textLength="153.63" lengthAdjust="spacing" class="r">Gray, blue car.</text>
<text x="1131.76" y="769.60" font-size="20.00" fill="#262626" textLength="234.77" lengthAdjust="spacing" class="r">Black, brown-beige car.</text>
<text x="1133.31" y="799.50" font-size="20.00" fill="#262626" textLength="101.11" lengthAdjust="spacing" class="r">White car.</text>
<text x="1131.36" y="829.50" font-size="20.00" fill="#262626" textLength="169.07" lengthAdjust="spacing" class="r">Black, white car.</text>
<text x="1131.98" y="859.40" font-size="20.00" fill="#262626" textLength="255.24" lengthAdjust="spacing" class="r">Ch. -201.400. Green car.</text>
<text x="1131.98" y="889.00" font-size="20.00" fill="#262626" textLength="252.14" lengthAdjust="spacing" class="r">Ch. 201.401-. Brown car.</text>
<text x="1129.66" y="917.50" font-size="20.00" fill="#262626" textLength="172.17" lengthAdjust="spacing" class="r">Brown, green car.</text>
<text x="1130.35" y="948.00" font-size="20.00" fill="#262626" textLength="338.97" lengthAdjust="spacing" class="r">Olive-green, ore gray, yellow car.</text>
<text x="1129.66" y="977.50" font-size="20.00" fill="#262626" textLength="289.67" lengthAdjust="spacing" class="r">Black, brown, beige, red car.</text>
<text x="1129.66" y="1006.30" font-size="20.00" fill="#262626" textLength="150.97" lengthAdjust="spacing" class="r">Red, white car.</text>
<text x="1129.66" y="1036.30" font-size="20.00" fill="#262626" textLength="274.67" lengthAdjust="spacing" class="r">Pearl-gray, blue, white car.</text>
<text x="1130.29" y="1065.00" font-size="20.00" fill="#262626" textLength="152.83" lengthAdjust="spacing" class="r">Gray, blue car.</text>
<text x="1129.66" y="1094.50" font-size="20.00" fill="#262626" textLength="87.17" lengthAdjust="spacing" class="r">Blue car.</text>
<text x="1130.28" y="1123.80" font-size="20.00" fill="#262626" textLength="319.04" lengthAdjust="spacing" class="r">Ch. -201.400. Brown, green car.</text>
<text x="1130.28" y="1152.50" font-size="20.00" fill="#262626" textLength="250.34" lengthAdjust="spacing" class="r">Ch. 201.401-. Brown car.</text>
<text x="1129.66" y="1182.50" font-size="20.00" fill="#262626" textLength="228.47" lengthAdjust="spacing" class="r">Brown, olive-green car.</text>
<text x="1130.35" y="1211.30" font-size="20.00" fill="#262626" textLength="336.47" lengthAdjust="spacing" class="r">Olive-green, ore gray, yellow car.</text>
<text x="1495.11" y="915.60" font-size="19.50" font-weight="bold" fill="#222" textLength="157.06" lengthAdjust="spacingAndGlyphs" stroke="#222" stroke-width="0.8">X) Qty. as reqd.</text>
<text x="1701.67" y="1326.60" font-size="20.00" fill="#383838" textLength="39.77" lengthAdjust="spacingAndGlyphs" stroke="#383838" stroke-width="0.5">May</text>
<text x="1751.46" y="1327.60" font-size="20.00" fill="#383838" textLength="39.20" lengthAdjust="spacingAndGlyphs" stroke="#383838" stroke-width="0.5">1971</text>
<path d="M1476.4,635.4 C1481.5,636 1484.3,638.5 1484.3,643 L1484.3,667 M1484.3,670.5 L1484.3,730.5 M1484.3,737.5 L1484.2,905 C1484.2,909 1487.5,910.8 1493,911.4 C1487.5,912 1484,914 1484,918 L1481.8,1213.5 C1481.8,1218 1479,1220.5 1475.3,1221" stroke="#2e2e2e" stroke-width="3" fill="none" stroke-linecap="round"/>
<g stroke="#c6c6c6" stroke-width="1.9" stroke-dasharray="2 5.2" fill="none"><path d="M1150.0,307.0 L1430.0,307.4"/><path d="M1150.0,334.5 L1430.0,334.9"/><path d="M1150.0,364.0 L1430.0,364.4"/><path d="M1150.0,395.0 L1430.0,395.4"/><path d="M1150.0,422.6 L1430.0,423.0"/><path d="M1145.0,452.0 L1725.0,452.9"/><path d="M1145.0,483.9 L1725.0,484.8"/><path d="M1145.0,513.6 L1725.0,514.5"/><path d="M1145.0,544.0 L1725.0,544.9"/><path d="M1145.0,573.6 L1725.0,574.5"/><path d="M1145.0,603.3 L1725.0,604.2"/><path d="M1145.0,633.0 L1725.0,633.9"/><path d="M1145.0,662.7 L1725.0,663.6"/><path d="M1145.0,692.0 L1725.0,692.9"/><path d="M1145.0,721.5 L1725.0,722.4"/><path d="M1145.0,751.0 L1725.0,751.9"/><path d="M1145.0,780.5 L1725.0,781.4"/><path d="M1145.0,810.0 L1725.0,810.9"/><path d="M1145.0,839.0 L1725.0,839.9"/><path d="M1145.0,868.4 L1725.0,869.3"/><path d="M1145.0,898.3 L1725.0,899.2"/><path d="M1145.0,926.4 L1725.0,927.3"/><path d="M1145.0,956.8 L1725.0,957.7"/><path d="M1145.0,985.0 L1725.0,985.9"/><path d="M1145.0,1015.7 L1725.0,1016.6"/><path d="M1145.0,1044.0 L1725.0,1044.9"/><path d="M1145.0,1074.0 L1725.0,1074.9"/><path d="M1145.0,1103.0 L1725.0,1103.9"/><path d="M1145.0,1132.7 L1725.0,1133.6"/><path d="M1145.0,1162.0 L1725.0,1162.9"/><path d="M1145.0,1192.0 L1725.0,1192.9"/><path d="M1145.0,1220.0 L1725.0,1220.9"/><path d="M1150.0,1249.0 L1690.0,1249.9"/><path d="M1150.0,1278.0 L1690.0,1278.9"/></g>
<g stroke="#d0d0d0" stroke-width="1.5" stroke-dasharray="1.5 5.5" fill="none"><path d="M268,1217 L395,1217"/><path d="M310,1247 L395,1247"/><path d="M310,1277 L395,1277"/></g>
<rect x="1757.0" y="662.5" width="7.0" height="2.2" fill="#555"/>
<rect x="1534.0" y="971.5" width="6.0" height="2.2" fill="#555"/>
<circle cx="1710.0" cy="618.0" r="1.4" fill="#777"/>
<circle cx="1267.0" cy="1249.0" r="1.4" fill="#444"/>
<circle cx="1276.0" cy="1259.0" r="1.4" fill="#444"/>
<circle cx="930.5" cy="352.5" r="1.5" fill="#333"/>
<circle cx="1084.0" cy="1000.0" r="1.3" fill="#444"/>
<rect x="866.0" y="704.0" width="3.0" height="6.0" fill="#333"/>
<rect x="1037.0" y="516.0" width="4.0" height="1.6" fill="#666"/>
<circle cx="1296.0" cy="785.5" r="2.2" fill="#888"/>
<circle cx="1157.0" cy="626.0" r="1.1" fill="#999"/>
<path d="M504,368 L502,374" stroke="#555" stroke-width="1.3"/>
<path d="M1080,520 L1078,527" stroke="#555" stroke-width="1.3"/>
<ellipse cx="0" cy="907" rx="8" ry="16" fill="#444"/>
<ellipse cx="0" cy="1043" rx="9" ry="19" fill="#444"/>
<ellipse cx="5.5" cy="447" rx="2.6" ry="11" fill="#333"/>
<ellipse cx="9" cy="311" rx="1.5" ry="5.5" fill="#999"/>
<rect x="1545" y="-6" width="300" height="14" fill="#f0f0f0" filter="url(#blur4)"/>
</svg>
</body></html>
